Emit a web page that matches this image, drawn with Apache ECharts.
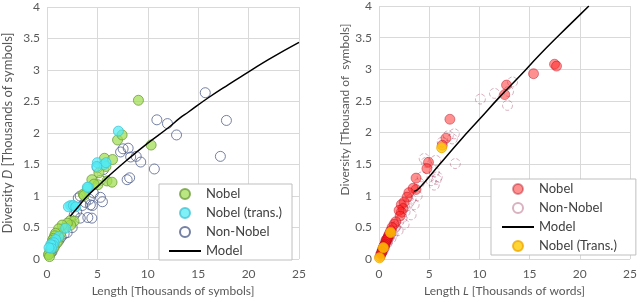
<!DOCTYPE html>
<html><head><meta charset="utf-8">
<script src="https://cdn.jsdelivr.net/npm/echarts@6/dist/echarts.min.js"></script>
<style>html,body{margin:0;padding:0;background:#fff}#c{width:640px;height:302px}</style>
</head><body><div id="c"></div>
<script>
// ---- Left panel: Length [Thousands of symbols] vs Diversity D ----
const leftNobel = [[9.07,2.52],[10.33,1.81],[7.0,1.89],[7.45,1.97],[5.7,1.6],[6.5,1.58],[5.85,1.47],[5.15,1.37],[5.95,1.24],[6.45,1.22],[4.45,1.26],[5.05,1.18],[4.66,1.19],[4.0,1.11],[3.6,1.03],[3.67,1.01],[2.3,0.61],[2.68,0.6],[2.35,0.54],[2.02,0.57],[1.69,0.49],[1.5,0.54],[1.36,0.41],[1.19,0.34],[1.15,0.48],[1.02,0.26],[0.85,0.41],[0.75,0.37],[0.69,0.18],[0.65,0.33],[0.55,0.3],[0.5,0.26],[0.42,0.22],[0.37,0.13],[0.3,0.14],[0.2,0.08],[0.15,0.07],[0.25,0.04]];
const leftTrans = [[7.08,2.03],[4.99,1.53],[5.65,1.5],[5.85,1.53],[4.93,1.47],[4.1,1.14],[4.0,1.14],[2.35,0.85],[2.12,0.83],[2.61,0.85],[2.85,0.83],[1.85,0.49],[1.19,0.36],[0.86,0.31],[0.69,0.26],[0.6,0.22],[0.37,0.23],[0.45,0.17],[0.2,0.18]];
const leftNonNobel = [[15.7,2.64],[17.8,2.2],[10.9,2.21],[11.95,2.15],[12.85,1.97],[17.2,1.63],[10.65,1.43],[9.3,1.54],[8.2,1.29],[7.95,1.26],[7.55,1.75],[8.05,1.76],[8.3,1.62],[8.85,1.63],[7.3,1.7],[5.3,1.25],[5.0,1.45],[5.3,0.98],[5.5,0.91],[4.3,0.86],[4.5,0.85],[4.05,0.66],[4.45,0.65],[3.3,1.0],[3.1,0.97],[3.5,0.85],[3.3,0.65],[2.95,0.75],[2.5,0.5],[2.0,0.42],[2.7,0.7],[3.8,0.9],[4.6,1.05],[4.2,0.95],[5.6,1.42],[1.7,0.4],[1.4,0.35],[1.2,0.3],[1.0,0.27],[0.8,0.22],[0.6,0.17],[0.5,0.12],[0.4,0.1]];
const leftModel = [[2.3,0.68],[3,0.81],[4,1.0],[5,1.15],[6,1.3],[8,1.58],[10,1.84],[12,2.08],[13.2,2.24],[14,2.33],[16,2.56],[18,2.77],[20,2.97],[22,3.17],[25,3.44]];

// ---- Right panel: Length L [Thousands of words] vs Diversity ----
const rightNobel = [[17.48,3.08],[17.68,3.05],[15.39,2.93],[12.7,2.75],[12.52,2.6],[7.06,2.21],[6.67,1.91],[6.3,1.8],[4.93,1.53],[4.77,1.43],[3.69,1.28],[3.69,1.1],[3.4,1.12],[2.97,1.05],[2.8,0.98],[2.5,0.9],[2.22,0.86],[2.39,0.8],[2.22,0.74],[2.0,0.77],[2.1,0.68],[1.67,0.59],[1.5,0.55],[1.3,0.5],[1.18,0.45],[1.1,0.42],[1.05,0.4],[0.95,0.37],[0.9,0.35],[0.85,0.32],[0.78,0.31],[0.7,0.3],[0.66,0.27],[0.62,0.24],[0.55,0.22],[0.5,0.2],[0.45,0.19],[0.36,0.16],[0.3,0.12],[0.25,0.1],[0.2,0.08],[0.1,0.04]];
const rightNonNobel = [[10.1,2.53],[11.5,2.62],[12.9,2.65],[13.3,2.8],[12.8,2.43],[7.5,1.98],[7.3,1.9],[7.6,1.51],[5.65,1.56],[5.5,1.38],[5.2,1.24],[5.7,1.26],[5.8,1.3],[4.5,1.59],[4.7,1.53],[5.5,1.17],[4.3,1.3],[4.0,1.2],[3.5,0.86],[3.2,0.95],[3.0,0.9],[3.8,1.0],[2.8,0.85],[2.6,0.75],[2.3,0.65],[2.0,0.6],[1.7,0.52],[1.5,0.48],[1.3,0.43],[1.1,0.38],[0.9,0.32],[0.7,0.27],[0.5,0.2],[0.35,0.15],[0.2,0.1],[1.9,0.45],[2.5,0.55],[3.2,0.7],[6.3,1.85],[6.9,1.95],[1.2,0.33],[0.8,0.25],[0.6,0.22],[0.4,0.13],[1.4,0.4],[1.0,0.34],[0.75,0.29],[0.55,0.18],[0.3,0.11],[0.15,0.06],[1.6,0.5],[1.15,0.4],[0.85,0.28],[0.45,0.16]];
const rightTrans = [[0.05,0.02],[0.43,0.18],[1.15,0.42],[6.24,1.76]];
const rightModel = [[3.5,1.07],[4,1.12],[6,1.49],[8,1.86],[10,2.21],[12,2.56],[14,2.89],[16,3.23],[18,3.55],[20,3.86],[20.9,4.0]];

const xTicks = {min:0,max:25,interval:5};
const yTicks = {min:0,max:4,interval:0.5};

const FONT = 'Lato';
const grey = '#595959';
const gridLine = {show:true,lineStyle:{color:'#d9d9d9',width:1}};
function xAxis(gi, name, gap){
  return {type:'value',gridIndex:gi,min:xTicks.min,max:xTicks.max,interval:xTicks.interval,
    axisLine:{show:false},axisTick:{show:false},splitLine:gridLine,
    axisLabel:{color:grey,fontFamily:FONT,fontSize:12,margin:9},
    name:name,nameLocation:'middle',nameGap:gap,
    nameTextStyle:{color:grey,fontFamily:FONT,fontSize:12,rich:{i:{fontStyle:'italic',color:grey,fontFamily:FONT,fontSize:12}}}};
}
function yAxis(gi, name, gap, pad, fs){
  return {type:'value',gridIndex:gi,min:yTicks.min,max:yTicks.max,interval:yTicks.interval,
    axisLine:{show:false},axisTick:{show:false},splitLine:gridLine,
    axisLabel:{color:grey,fontFamily:FONT,fontSize:12,margin:7},
    name:name,nameLocation:'middle',nameGap:gap,
    nameTextStyle:{color:grey,fontFamily:FONT,fontSize:fs,padding:pad,rich:{i:{fontStyle:'italic',color:grey,fontFamily:FONT,fontSize:fs}}}};
}
const legendText = {color:'#404040',fontFamily:FONT,fontSize:13,lineHeight:14};
const noDot = {color:'rgba(0,0,0,0)',borderColor:'rgba(0,0,0,0)',borderWidth:0};

const option = {
  animation:false,
  grid:[{left:47,right:341,top:7,bottom:37},{left:379,right:6,top:5,bottom:40}],
  xAxis:[xAxis(0,'Length [Thousands of symbols]',22), xAxis(1,'Length {i|L} [Thousands of words]',24)],
  yAxis:[yAxis(0,'Diversity {i|D} [Thousands of symbols]',33,0,13), yAxis(1,'Diversity [Thousand of  symbols]',27,[0,0,0,46],12)],
  legend:[
    {left:159,top:184,orient:'vertical',itemWidth:32,itemHeight:10,itemGap:5,padding:[3,10,2,9],
     borderColor:'#bfbfbf',borderWidth:1,backgroundColor:'#fff',textStyle:legendText,
     data:['Nobel','Nobel (trans.)','Non-Nobel',{name:'Model',itemStyle:noDot}],selectedMode:false},
    {left:491,top:179,orient:'vertical',itemWidth:32,itemHeight:10,itemGap:5,padding:[3,19,2,10],
     borderColor:'#bfbfbf',borderWidth:1,backgroundColor:'#fff',textStyle:legendText,
     data:['Nobel ','Non-Nobel ',{name:'Model ',itemStyle:noDot},'Nobel (Trans.)'],selectedMode:false}
  ],
  series:[
    {name:'Non-Nobel',type:'scatter',xAxisIndex:0,yAxisIndex:0,data:leftNonNobel,symbolSize:10,
     itemStyle:{color:'rgba(255,255,255,0)',borderColor:'#52628f',borderWidth:1}},
    {name:'Nobel',type:'scatter',xAxisIndex:0,yAxisIndex:0,data:leftNobel,symbolSize:10,
     itemStyle:{color:'rgba(160,222,80,0.9)',borderColor:'#6f9e3c',borderWidth:1}},
    {name:'Nobel (trans.)',type:'scatter',xAxisIndex:0,yAxisIndex:0,data:leftTrans,symbolSize:10,
     itemStyle:{color:'rgba(80,236,245,0.9)',borderColor:'#45c4d6',borderWidth:1}},
    {name:'Model',type:'line',xAxisIndex:0,yAxisIndex:0,data:leftModel,symbol:'none',smooth:true,
     lineStyle:{color:'#000',width:1.5},itemStyle:{color:'#000'}},

    {name:'Non-Nobel ',type:'scatter',xAxisIndex:1,yAxisIndex:1,data:rightNonNobel,symbolSize:10,
     itemStyle:{color:'rgba(255,255,255,0)',borderColor:'rgba(150,40,80,0.45)',borderWidth:1,borderType:'dashed'}},
    {name:'Nobel ',type:'scatter',xAxisIndex:1,yAxisIndex:1,data:rightNobel,symbolSize:10,
     itemStyle:{color:'rgba(255,30,30,0.62)',borderColor:'rgba(170,0,20,0.5)',borderWidth:1}},
    {name:'Nobel (Trans.)',type:'scatter',xAxisIndex:1,yAxisIndex:1,data:rightTrans,symbolSize:10,
     itemStyle:{color:'#ffcc00',borderColor:'#f0a800',borderWidth:1}},
    {name:'Model ',type:'line',xAxisIndex:1,yAxisIndex:1,data:rightModel,symbol:'none',smooth:true,
     lineStyle:{color:'#000',width:1.5},itemStyle:{color:'#000'}}
  ]
};
const chart = echarts.init(document.getElementById('c'),null,{renderer:'canvas'});
chart.setOption(option);
</script></body></html>
